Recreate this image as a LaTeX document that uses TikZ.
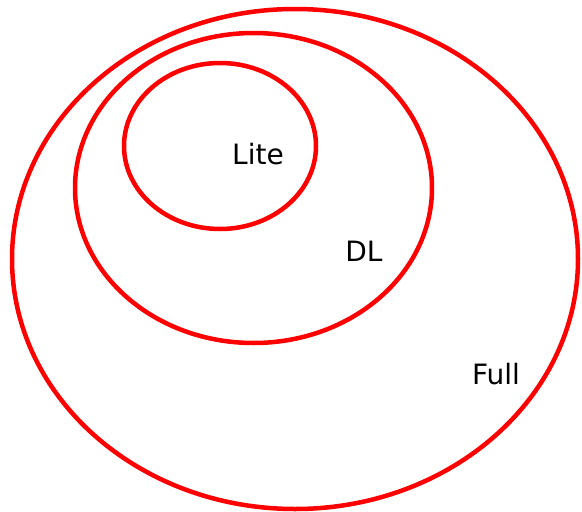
\documentclass[tikz,border=0pt]{standalone}
\usepackage{fontspec}
\setmainfont{DejaVu Sans}
\begin{document}
\begin{tikzpicture}[x=1pt,y=-1pt,
  ring/.style={draw=red,line width=4.5pt},
  lbl/.style={anchor=base,inner sep=0pt,font=\fontsize{28}{32}\selectfont,text=black}]
\useasboundingbox (0,0) rectangle (582,512);
\draw[ring] (295,259) ellipse [x radius=283,y radius=250];
\draw[ring] (253.5,188) ellipse [x radius=178.5,y radius=155];
\draw[ring] (220,146) ellipse [x radius=96,y radius=83];
\node[lbl] (lite) at (258,164) {Lite};
\node[lbl] (dl) at (364,261) {DL};
\node[lbl] (full) at (496,384) {Full};
\end{tikzpicture}
\end{document}
